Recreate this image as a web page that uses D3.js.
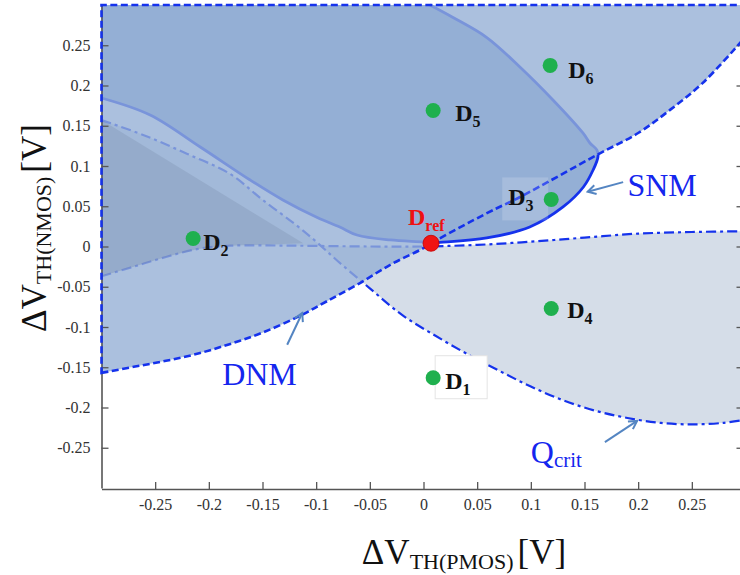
<!DOCTYPE html>
<html>
<head>
<meta charset="utf-8">
<script src="https://cdn.jsdelivr.net/npm/d3@7"></script>
<style>
  html, body { margin: 0; padding: 0; background: #fff; }
  svg { display: block; font-family: "Liberation Serif", "Times New Roman", serif; }
</style>
</head>
<body>
<svg id="chart" width="740" height="575"></svg>
<script>
// ---- tick values and labels (V) ----
const xTicks = [-0.25, -0.2, -0.15, -0.1, -0.05, 0, 0.05, 0.1, 0.15, 0.2, 0.25];
const xTickLabels = ["-0.25", "-0.2", "-0.15", "-0.1", "-0.05", "0", "0.05", "0.1", "0.15", "0.2", "0.25"];
const yTicks = [-0.25, -0.2, -0.15, -0.1, -0.05, 0, 0.05, 0.1, 0.15, 0.2, 0.25];
const yTickLabels = ["-0.25", "-0.2", "-0.15", "-0.1", "-0.05", "0", "0.05", "0.1", "0.15", "0.2", "0.25"];

// ---- DNM boundary curve (ΔVth_PMOS, ΔVth_NMOS) ----
const dnmX = [-0.3, -0.27, -0.24, -0.21, -0.18, -0.15, -0.115, -0.09, -0.06, -0.03, 0.0, 0.007, 0.06, 0.09, 0.1615, 0.2, 0.23, 0.26, 0.295, 0.3];
const dnmY = [-0.157, -0.1495, -0.142, -0.133, -0.121, -0.107, -0.086, -0.068, -0.046, -0.022, -0.002, 0.004, 0.042, 0.0615, 0.1137, 0.141, 0.17, 0.203, 0.253, 0.261];

// ---- SNM boundary (left edge -> D_ref -> tip -> top edge) ----
const snmX = [-0.3, -0.2547, -0.208, -0.1615, -0.131, -0.099, -0.078, -0.062, -0.031, 0.0, 0.007, 0.0154, 0.059, 0.099, 0.130, 0.149, 0.158, 0.1625, 0.1615, 0.155, 0.1485, 0.1206, 0.0898, 0.059, 0.0275, 0.006];
const snmY = [0.1845, 0.1634, 0.1236, 0.0826, 0.0578, 0.036, 0.0242, 0.0143, 0.0081, 0.0056, 0.0045, 0.0052, 0.0106, 0.0242, 0.0491, 0.0739, 0.095, 0.1112, 0.12, 0.1286, 0.141, 0.182, 0.223, 0.2596, 0.2845, 0.3];

// ---- Qcrit boundaries ----
const qDiagX = [-0.3, -0.26, -0.22, -0.18, -0.15, -0.12, -0.10, -0.08, -0.05, -0.02, 0.01, 0.04, 0.07, 0.10, 0.13, 0.16, 0.19, 0.22, 0.25, 0.28, 0.3];
const qDiagY = [0.157, 0.138, 0.115, 0.090, 0.058, 0.028, 0.006, -0.018, -0.052, -0.085, -0.110, -0.133, -0.154, -0.174, -0.191, -0.204, -0.213, -0.219, -0.221, -0.219, -0.215];
const qFlatX = [-0.3, -0.27, -0.24, -0.21, -0.18, -0.12, -0.05, 0.0, 0.05, 0.10, 0.15, 0.20, 0.25, 0.3];
const qFlatY = [-0.037, -0.025, -0.013, -0.003, 0.001, 0.001, 0.0, 0.0, 0.002, 0.006, 0.011, 0.016, 0.018, 0.019];

// ---- overlap lobe where Qcrit meets DNM on the left ----
const lobeX = [-0.3, -0.112, -0.18, -0.21, -0.24, -0.27, -0.3];
const lobeY = [0.157, 0.004, 0.001, -0.003, -0.013, -0.025, -0.037];

// ---- design points ----
const pointNames = ["D1", "D2", "D3", "D4", "D5", "D6"];
const pointX = [0.009, -0.2146, 0.119, 0.119, 0.009, 0.118];
const pointY = [-0.163, 0.0099, 0.0585, -0.077, 0.169, 0.225];
const refX = 0.007, refY = 0.004;

// ---- layout ----
const x = d3.scaleLinear().domain([-0.3, 0.3]).range([101.5, 745.5]);
const y = d3.scaleLinear().domain([-0.3, 0.3]).range([488, 5]);
const svg = d3.select("#chart");

const zip = (xs, ys) => xs.map((v, i) => [v, ys[i]]);
const dnmPts = zip(dnmX, dnmY);
const snmPts = zip(snmX, snmY);
const qDiag = zip(qDiagX, qDiagY);
const qFlat = zip(qFlatX, qFlatY);
const lobe = zip(lobeX, lobeY);

const smooth = d3.line().x(d => x(d[0])).y(d => y(d[1])).curve(d3.curveCatmullRom.alpha(0.5));
const straight = d3.line().x(d => x(d[0])).y(d => y(d[1]));

const BLUE = "#1532ec";
const PANEL = "rgb(148,175,213)";

// Qcrit region: between the flat and diagonal boundaries (bow-tie shape)
svg.append("path")
  .attr("d", smooth(qFlat) + "L" + smooth(qDiag.slice().reverse()).slice(1) + "Z")
  .attr("fill", "#d5dde8");

// SNM region: above the SNM boundary up to the top edge
svg.append("path")
  .attr("d", smooth(snmPts) + "L" + x(-0.3) + "," + y(0.3) + "Z")
  .attr("fill", PANEL);

// boundary lines (the DNM wash is laid over them)
svg.append("path").attr("d", smooth(qDiag))
  .attr("fill", "none").attr("stroke", BLUE).attr("stroke-width", 2.2)
  .attr("stroke-dasharray", "10,4,3,4");
svg.append("path").attr("d", smooth(qFlat))
  .attr("fill", "none").attr("stroke", BLUE).attr("stroke-width", 2.2)
  .attr("stroke-dasharray", "10,4,3,4");
svg.append("path").attr("d", smooth(snmPts))
  .attr("fill", "none").attr("stroke", BLUE).attr("stroke-width", 2.8);

// DNM region (semi-transparent wash)
const dnmOutline = smooth(dnmPts) + "L" + x(0.3) + "," + y(0.3) + "L" + x(-0.3) + "," + y(0.3) + "Z";
svg.append("path").attr("d", dnmOutline)
  .attr("fill", PANEL).attr("fill-opacity", 0.79);

// darker overlap lobe
svg.append("path").attr("d", straight(lobe) + "Z")
  .attr("fill", "rgb(95,112,140)").attr("fill-opacity", 0.18);

// ---- axes ----
const axisColor = "#555";
const gx = svg.append("g").attr("transform", `translate(0,${y(-0.3) + 1})`)
  .call(d3.axisBottom(x).tickValues(xTicks).tickSizeInner(-7).tickSizeOuter(0)
    .tickPadding(10).tickFormat((d, i) => xTickLabels[i]));
const gy = svg.append("g").attr("transform", `translate(${x(-0.3)},0)`)
  .call(d3.axisLeft(y).tickValues(yTicks).tickSizeInner(-7).tickSizeOuter(0)
    .tickPadding(11).tickFormat((d, i) => yTickLabels[i]));
const gr = svg.append("g").attr("transform", `translate(${x(0.3)},0)`)
  .call(d3.axisRight(y).tickValues(yTicks).tickSizeInner(-9).tickSizeOuter(0).tickFormat(""));
[gx, gy, gr].forEach(g => {
  g.attr("font-family", '"Liberation Serif", serif');
  g.select(".domain").attr("stroke", axisColor).attr("stroke-width", 1.6);
  g.selectAll(".tick line").attr("stroke", axisColor).attr("stroke-width", 1.3);
  g.selectAll(".tick text").attr("fill", "#333").style("font-size", "16px")
    .style("font-family", '"Liberation Serif", serif');
});

// DNM dashed boundary (curve + top and left edges)
svg.append("path").attr("d", dnmOutline)
  .attr("fill", "none").attr("stroke", BLUE).attr("stroke-width", 2.6)
  .attr("stroke-dasharray", "7,3.5");

// ---- axis titles ----
const xt = svg.append("text").attr("x", 464).attr("y", 564)
  .attr("text-anchor", "middle").attr("fill", "#111").style("font-size", "35px");
xt.append("tspan").text("ΔV");
xt.append("tspan").attr("dy", 5).style("font-size", "22px").text("TH(PMOS)");
xt.append("tspan").attr("dy", -5).attr("dx", 4).text("[V]");

const yt = svg.append("text").attr("transform", "translate(46,228) rotate(-90)")
  .attr("text-anchor", "middle").attr("fill", "#111").style("font-size", "35px");
yt.append("tspan").text("ΔV");
yt.append("tspan").attr("dy", 5).style("font-size", "22px").text("TH(NMOS)");
yt.append("tspan").attr("dy", -5).attr("dx", 4).text("[V]");

// ---- label boxes ----
const boxStyle = {
  D1: { dx: 2, dy: -22, w: 52, h: 43, fill: "#fff", op: 1, stroke: "#e4e4e4" },
  D3: { dx: -49, dy: -22, w: 46, h: 43, fill: "#fff", op: 0.17, stroke: "none" }
};
pointNames.forEach((n, i) => {
  const b = boxStyle[n];
  if (!b) return;
  svg.append("rect")
    .attr("x", x(pointX[i]) + b.dx).attr("y", y(pointY[i]) + b.dy)
    .attr("width", b.w).attr("height", b.h)
    .attr("fill", b.fill).attr("fill-opacity", b.op)
    .attr("stroke", b.stroke).attr("stroke-width", 1);
});

// ---- design points and labels ----
const labelOffset = {
  D1: [12, 11], D2: [10, 11], D3: [-43, 6], D4: [16, 10], D5: [22, 11], D6: [18, 13]
};
pointNames.forEach((n, i) => {
  const cx = x(pointX[i]), cy = y(pointY[i]);
  svg.append("circle").attr("cx", cx).attr("cy", cy).attr("r", 7.5).attr("fill", "#1fb04e");
  const t = svg.append("text")
    .attr("x", cx + labelOffset[n][0]).attr("y", cy + labelOffset[n][1])
    .attr("fill", "#111").style("font-weight", "bold").style("font-size", "24px");
  t.append("tspan").text(n[0]);
  t.append("tspan").attr("dy", 6).style("font-size", "16px").text(n.slice(1));
});

// reference point
svg.append("circle").attr("cx", x(refX)).attr("cy", y(refY)).attr("r", 8)
  .attr("fill", "#f01414").attr("stroke", "#c40000").attr("stroke-width", 0.8);
const rt = svg.append("text").attr("x", x(refX) - 23).attr("y", y(refY) - 18)
  .attr("fill", "#ee1111").style("font-weight", "bold").style("font-size", "24px");
rt.append("tspan").text("D");
rt.append("tspan").attr("dy", 6).style("font-size", "16px").text("ref");

// ---- annotations ----
const ARROW = "#5485c2";
svg.append("defs").append("marker")
  .attr("id", "head").attr("viewBox", "-10 -6 12 12")
  .attr("refX", 0).attr("refY", 0).attr("markerWidth", 12).attr("markerHeight", 12)
  .attr("markerUnits", "userSpaceOnUse").attr("orient", "auto")
  .append("path").attr("d", "M-8,-4.5L0,0L-8,4.5")
  .attr("fill", "none").attr("stroke", ARROW).attr("stroke-width", 2);

const notes = [
  { main: "SNM", sub: "", tx: 0.19, ty: 0.0627, from: [0.186, 0.08], to: [0.153, 0.068] },
  { main: "DNM", sub: "", tx: -0.1876, ty: -0.172, from: [-0.127, -0.122], to: [-0.113, -0.0826] },
  { main: "Q", sub: "crit", tx: 0.100, ty: -0.269, from: [0.169, -0.243], to: [0.199, -0.2167] }
];
notes.forEach(a => {
  svg.append("line")
    .attr("x1", x(a.from[0])).attr("y1", y(a.from[1]))
    .attr("x2", x(a.to[0])).attr("y2", y(a.to[1]))
    .attr("stroke", ARROW).attr("stroke-width", 2).attr("marker-end", "url(#head)");
  const t = svg.append("text").attr("x", x(a.tx)).attr("y", y(a.ty))
    .attr("fill", "#1426ee").style("font-size", "32px");
  t.append("tspan").text(a.main);
  if (a.sub) t.append("tspan").attr("dy", 4).style("font-size", "21px").text(a.sub);
});
</script>
</body>
</html>
